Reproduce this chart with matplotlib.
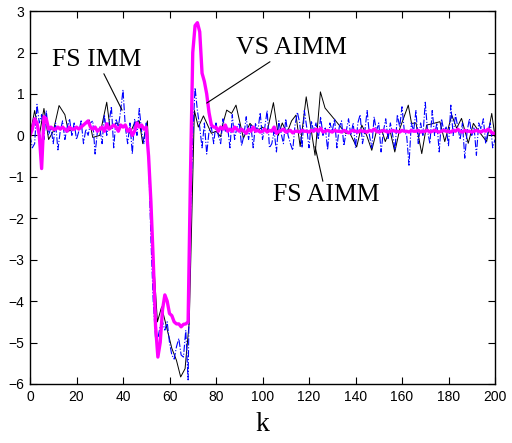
import numpy as np
import matplotlib.pyplot as plt

# ---------------------------------------------------------------
# data
# ---------------------------------------------------------------

k = np.arange(0, 201)

# FS IMM (black solid), vertices
imm_k = [0, 2, 4, 6, 8, 10, 12.5, 15, 16.5, 19, 22, 25.5, 27, 30, 33, 34.5, 37, 39,
         41, 43, 45, 47, 48.5, 50.5, 52, 54.8, 56.6, 61, 63, 64.8, 66.7, 68.5,
         70.7, 72.4, 74.6, 78, 80, 82, 83, 84.6, 86.7, 88.6, 91.8, 94.6, 96, 98.2,
         100, 102, 104.7, 106.8, 108.5, 110.5, 112.5, 114.4, 116.2, 118.8, 122.6,
         124.9, 126.9, 131.2, 135.8, 137.6, 140.5, 142.7, 144.8, 147, 149, 151.3,
         152.8, 154.8, 156.9, 159.1, 162.7, 164.1, 166, 168.5, 170.6, 173, 176.3,
         178.4, 181.4, 183.5, 185.6, 188.5, 190.7, 193, 196.4, 198.6, 200]
imm_y = [0.0, 0.6, 0.0, 0.65, -0.1, 0.1, 0.72, 0.5, 0.1, 0.17, 0.2, 0.37, -0.05, 0.0,
         0.8, 0.15, 0.3, 0.25, 0.2, 0.05, 0.3, 0.35, -0.2, 0.35, -2.0, -4.5, -4.14,
         -5.14, -5.43, -5.83, -5.63, -4.5, 0.6, 0.2, 0.47, 0.05, 0.1, -0.03, 0.29,
         0.61, 0.53, 0.73, -0.07, 0.29, 0.2, 0.13, 0.2, 0.09, 0.79, 0.0, 0.3, 0.05,
         0.35, 0.49, -0.27, 0.93, -0.48, 1.05, 0.66, 0.37, 0.05, 0.05, -0.28, 0.25,
         0.0, -0.36, 0.1, 0.13, -0.15, 0.13, -0.4, 0.17, 0.73, 0.29, 0.3, -0.44,
         0.25, 0.28, 0.33, -0.15, 0.49, 0.17, 0.41, -0.19, 0.29, 0.1, -0.15, 0.53,
         -0.03]

# FS AIMM (blue dash-dot)
fs_aimm = [0.0, -0.3, -0.2, 0.75, 0.3, 0.5, -0.1, 0.6, 0.0, 0.2,
           -0.2, 0.3, -0.35, 0.1, 0.35, -0.1, 0.2, 0.4, 0.0, 0.3,
           -0.1, 0.1, 0.35, -0.2, 0.15, 0.0, 0.3, 0.35, -0.45, 0.1,
           0.2, -0.2, 0.5, 0.0, 0.3, 0.7, -0.3, 0.4, 0.2, 0.6,
           1.1, 0.2, -0.2, 0.3, -0.45, 0.4, 0.0, 0.65, 0.1, -0.2,
           0.3, -0.5, -2.5, -4.0, -4.9, -4.9, -4.6, -4.5, -4.7, -4.5,
           -5.0, -5.3, -5.4, -5.1, -4.9, -5.3, -5.35, -4.7, -5.9, -2.0,
           0.0, 1.15, 0.6, 0.2, -0.3, 0.3, -0.45, 0.1, 0.2, -0.2,
           0.3, 0.0, -0.2, 0.4, 0.1, 0.2, -0.3, 0.5, -0.1, 0.2,
           0.3, -0.25, 0.0, 0.45, -0.1, 0.25, -0.3, 0.3, 0.1, 0.55,
           -0.1, 0.2, 0.6, -0.3, -0.2, 0.1, -0.4, 0.35, 0.05, -0.2,
           0.4, 0.0, -0.2, -0.36, 0.25, 0.56, 0.3, -0.3, 0.6, 0.2,
           -0.3, 0.35, 0.1, 0.3, -0.1, 0.45, 0.0, 0.2, -0.35, 0.3,
           0.1, 0.4, -0.3, 0.2, 0.35, -0.25, 0.1, 0.4, 0.0, 0.3,
           -0.3, 0.3, 0.5, -0.2, 0.1, 0.6, 0.0, -0.3, 0.45, 0.1,
           0.3, -0.4, 0.1, 0.4, -0.1, 0.3, 0.0, -0.35, 0.5, 0.2,
           0.69, 0.1, 0.0, -0.72, 0.3, 0.1, 0.6, -0.2, 0.3, 0.0,
           0.8, 0.1, -0.2, 0.6, 0.0, 0.3, -0.4, 0.4, 0.1, 0.2,
           -0.25, 0.73, 0.0, 0.5, 0.2, -0.1, 0.3, -0.55, 0.1, 0.4,
           0.0, 0.2, -0.48, 0.3, 0.15, 0.4, -0.2, 0.1, 0.3, -0.3,
           -0.1]

# VS AIMM (magenta, thick)
vs_aimm = [0.0, 0.15, 0.4, 0.3, 0.0, -0.8, 0.45, 0.4, 0.15, 0.2,
           0.15, 0.15, 0.2, 0.15, 0.2, 0.15, 0.1, 0.2, 0.15, 0.15,
           0.2, 0.15, 0.2, 0.25, 0.3, 0.35, 0.2, 0.15, 0.2, 0.1,
           0.15, 0.2, 0.1, 0.28, 0.15, 0.2, 0.25, 0.2, 0.1, 0.25,
           0.2, 0.25, 0.1, 0.15, 0.0, 0.1, 0.3, 0.2, 0.25, 0.15,
           0.2, -0.5, -1.6, -3.0, -4.6, -5.35, -5.0, -4.2, -3.85, -4.0,
           -4.3, -4.35, -4.5, -4.55, -4.55, -4.62, -4.56, -4.55, -4.5, -1.0,
           2.0, 2.65, 2.72, 2.5, 1.5, 1.3, 1.0, 0.55, 0.25, 0.2,
           0.2, 0.1, 0.2, 0.15, 0.25, 0.1, 0.15, 0.1, 0.2, 0.15,
           0.1, 0.15, 0.1, 0.05, 0.15, 0.1, 0.2, 0.1, 0.12, 0.08,
           0.1, 0.15, 0.08, 0.12, 0.1, 0.2, 0.05, 0.1, 0.12, 0.15,
           0.08, 0.1, 0.12, 0.06, 0.1, 0.1, 0.08, 0.12, 0.1, 0.1,
           0.08, 0.12, 0.1, 0.15, 0.1, 0.17, 0.08, 0.1, 0.12, 0.1,
           0.08, 0.12, 0.1, 0.1, 0.08, 0.12, 0.1, 0.06, 0.1, 0.12,
           0.1, 0.08, 0.12, 0.1, 0.1, 0.08, 0.12, 0.1, 0.15, 0.1,
           0.08, 0.1, 0.12, 0.1, 0.08, 0.1, 0.12, 0.1, 0.1, 0.08,
           0.12, 0.1, 0.1, 0.08, 0.12, 0.1, 0.1, 0.12, 0.08, 0.1,
           0.1, 0.12, 0.08, 0.1, 0.12, 0.1, 0.08, 0.1, 0.12, 0.1,
           0.1, 0.08, 0.12, 0.1, 0.15, 0.1, 0.08, 0.12, 0.1, 0.1,
           0.08, 0.1, 0.12, 0.1, 0.08, 0.12, 0.1, 0.15, 0.1, 0.05,
           0.05]

# ---------------------------------------------------------------
# plot
# ---------------------------------------------------------------

fig = plt.figure(figsize=(5.12, 4.43), dpi=100)
ax = fig.add_axes([0.0586, 0.1332, 0.9082, 0.8418])

ax.plot(imm_k, imm_y, color="black", lw=0.7)
ax.plot(k, fs_aimm, color="blue", lw=0.8, ls="-.")
ax.plot(k, vs_aimm, color="#ff00ff", lw=2.4)

ax.set_xlim(0, 200)
ax.set_ylim(-6, 3)
ax.set_xticks(np.arange(0, 201, 20))
ax.set_yticks(np.arange(-6, 4, 1))
ax.tick_params(direction="in", top=True, right=True, length=5,
               labelsize=10, pad=4)
for lab in ax.get_xticklabels() + ax.get_yticklabels():
    lab.set_fontfamily("Liberation Sans")
for s in ax.spines.values():
    s.set_linewidth(1.0)

ax.set_xlabel("k", fontfamily="Liberation Serif", fontsize=20, labelpad=6)

txt = dict(fontfamily="Liberation Serif", fontsize=18.5, ha="center", va="center",
           arrowprops=dict(arrowstyle="-", color="black", lw=0.8, shrinkA=0, shrinkB=0))
ax.annotate("FS IMM", xy=(39.6, 0.61), xytext=(28.8, 1.82), **txt)
ax.annotate("VS AIMM", xy=(76, 0.78), xytext=(112.3, 2.11), **txt)
ax.annotate("FS AIMM", xy=(122.6, -0.27), xytext=(127.3, -1.44), **txt)

fig.savefig("out.png", dpi=100)
